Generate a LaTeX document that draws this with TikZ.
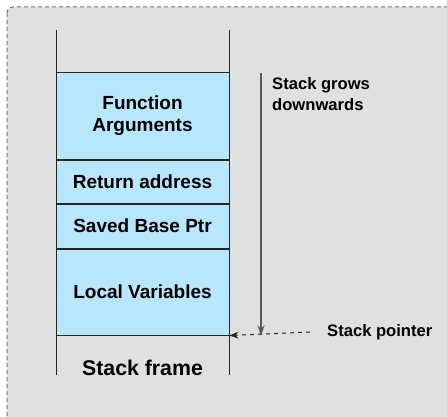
\documentclass[tikz,border=0pt]{standalone}
\usepackage{fontspec}
\setmainfont{Liberation Sans}
\usetikzlibrary{positioning,arrows.meta}

\definecolor{slotblue}{RGB}{184,230,252}
\definecolor{panelgray}{RGB}{224,224,224}

\begin{document}
\begin{tikzpicture}[x=1pt, y=-1pt,
    slot/.style={draw=black!85, fill=slotblue, line width=1pt, minimum width=173pt,
        inner sep=0pt, align=center, font=\fontsize{19}{22}\selectfont\bfseries},
    note/.style={inner sep=0pt, align=left, font=\fontsize{16.6}{21}\selectfont\bfseries}]
    \useasboundingbox (0,0) rectangle (447,417);
    \clip (0,0) rectangle (447,417);
    \draw[black!55, line width=1pt, fill=panelgray, rounded corners=6pt, dash pattern=on 4pt off 3pt] (7,7) rectangle (470,440);

    % the frame slots
    \node[slot, minimum height=86pt] (args) at (142.5,116) {Function\\Arguments};
    \node[slot, minimum height=43pt, below=0pt of args] (ret) {Return address};
    \node[slot, minimum height=44pt, below=0pt of ret] (base) {Saved Base Ptr};
    \node[slot, minimum height=86pt, below=0pt of base] (locals) {Local Variables};

    % walls of the stack
    \coordinate (wall tl) at (56,30);
    \coordinate (wall bl) at (56,375);
    \coordinate (wall tr) at (229,30);
    \coordinate (wall br) at (229,375);
    \draw[black!85, line width=1pt] (wall tl) -- (wall bl);
    \draw[black!85, line width=1pt] (wall tr) -- (wall br);
    \node[inner sep=0pt, font=\fontsize{21.3}{24}\selectfont\bfseries] (frame) at (142.5,368) {Stack frame};

    % growth direction
    \coordinate (grow top) at (261,73);
    \node[note, anchor=north west] (grows) at (272,77) {Stack grows\\downwards};
    \draw[black!65, line width=1.2pt, -{Stealth[length=10pt, width=7pt]}] (grow top) -- (grow top |- locals.south);

    % stack pointer
    \node[note, anchor=west] (sp) at (327,332) {Stack pointer};
    \coordinate[left=17pt of sp] (sp tail);
    \draw[black!85, line width=1pt, dash pattern=on 4pt off 4pt, -{Stealth[length=9pt, width=7pt]}] (sp tail) -- (locals.south east);
\end{tikzpicture}
\end{document}
